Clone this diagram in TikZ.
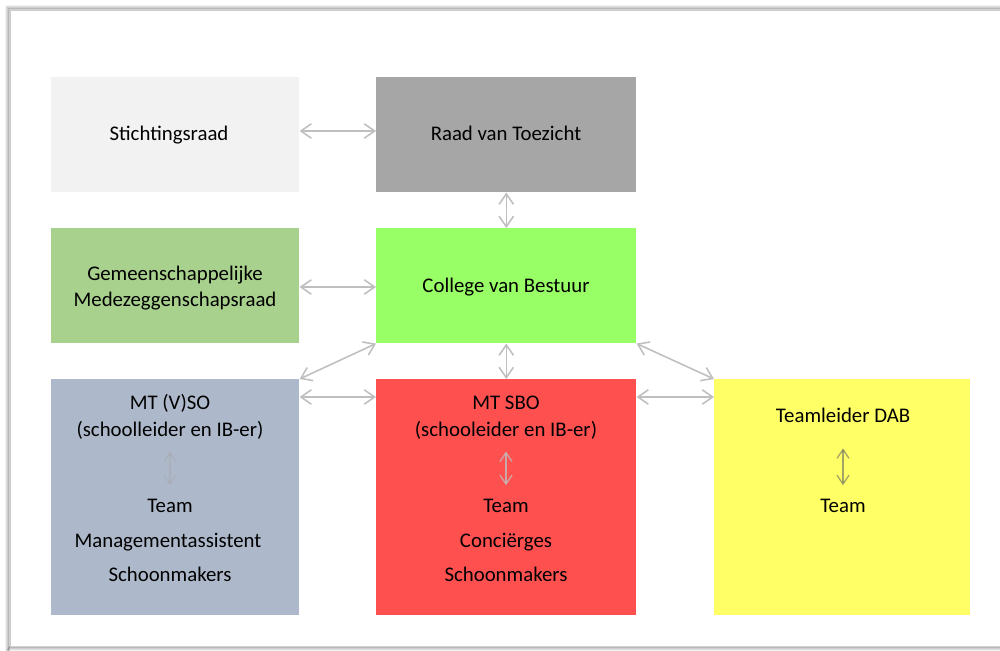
\documentclass[tikz,border=0pt]{standalone}
\usepackage{fontspec}
\setmainfont{Carlito}
\usetikzlibrary{arrows.meta, calc, positioning}

\definecolor{stichting}{HTML}{F2F2F2}
\definecolor{toezicht}{HTML}{A6A6A6}
\definecolor{gmr}{HTML}{A9D18E}
\definecolor{bestuur}{HTML}{99FF66}
\definecolor{vso}{HTML}{ADB9CA}
\definecolor{sbo}{HTML}{FF5050}
\definecolor{dab}{HTML}{FFFF66}
\definecolor{linkgray}{HTML}{BFBFBF}

\tikzset{
    orgbox/.style={rectangle, inner sep=0pt, anchor=north west},
    label/.style={anchor=base, inner sep=0pt, text=black, font=\fontsize{14.8}{18}\selectfont},
    link/.style={draw=linkgray, line width=1.1pt,
        {Straight Barb[length=2.6mm, width=3.6mm]}-{Straight Barb[length=2.6mm, width=3.6mm]}},
    innerlink/.style={draw=black!35, opacity=0.45, line width=0.9pt,
        {Straight Barb[length=2.2mm, width=3mm]}-{Straight Barb[length=2.2mm, width=3mm]}}
}

\begin{document}
\begin{tikzpicture}[x=0.025cm, y=-0.025cm]

% page with its shadow
\useasboundingbox (0,0) rectangle (1000,651);
\foreach \d/\o in {4/0.05, 3/0.08, 2/0.12, 1/0.18}
{
    \draw[black, opacity=\o, line width=1pt] (10-\d,1200) -- (10-\d,10-\d) -- (1100,10-\d);
    \draw[black, opacity=\o, line width=1pt] (10-\d,646+\d) -- (1100,646+\d);
}
\fill[white] (10,10) rectangle (1010,646);
\draw[black!20, line width=0.6pt] (10,646) -- (10,10) -- (1010,10);

% Boxes
\node[orgbox, fill=stichting, minimum width=248*0.025cm, minimum height=115*0.025cm] (stichting) at (51,77) {};
\node[orgbox, fill=toezicht, minimum width=260*0.025cm, minimum height=115*0.025cm] (toezicht) at (376,77) {};
\node[orgbox, fill=gmr, minimum width=248*0.025cm, minimum height=115*0.025cm] (gmr) at (51,228) {};
\node[orgbox, fill=bestuur, minimum width=260*0.025cm, minimum height=115*0.025cm] (bestuur) at (376,228) {};
\node[orgbox, fill=vso, minimum width=248*0.025cm, minimum height=236*0.025cm] (vso) at (51,379) {};
\node[orgbox, fill=sbo, minimum width=260*0.025cm, minimum height=236*0.025cm] (sbo) at (376,379) {};
\node[orgbox, fill=dab, minimum width=256*0.025cm, minimum height=236*0.025cm] (dab) at (714,379) {};

% Texts
\node[label] (stichtingText) at (169,140) {Stichtingsraad};
\node[label] (toezichtText) at (506,140) {Raad van Toezicht};
\node[label] (gmrTextA) at (175,280) {Gemeenschappelijke};
\node[label] (gmrTextB) at (175,306) {Medezeggenschapsraad};
\node[label] (bestuurText) at (506,292) {College van Bestuur};

\node[label] (vsoHead) at (170,409) {MT (V)SO};
\node[label] (vsoSub) at (170,436) {(schoolleider en IB-er)};
\node[label] (vsoTeam) at (170,512) {Team};
\node[label] (vsoAssist) at (168,547) {Managementassistent};
\node[label] (vsoClean) at (170,581) {Schoonmakers};

\node[label] (sboHead) at (506,409) {MT SBO};
\node[label] (sboSub) at (506,436) {(schooleider en IB-er)};
\node[label] (sboTeam) at (506,512) {Team};
\node[label] (sboConcierge) at (506,547) {Conciërges};
\node[label] (sboClean) at (506,581) {Schoonmakers};

\node[label] (dabHead) at (843,422) {Teamleider DAB};
\node[label] (dabTeam) at (843,512) {Team};

% Connectors between boxes
\draw[link] (stichting.east |- 0,131) -- (toezicht.west |- 0,131);
\draw[link] (toezicht.south) -- (bestuur.north);
\draw[link] (gmr.east |- 0,287) -- (bestuur.west |- 0,287);
\draw[link] (bestuur.south west) -- (vso.north east);
\draw[link] (bestuur.south) -- (sbo.north);
\draw[link] (bestuur.south east) -- (dab.north west);
\draw[link] ($(vso.north east)+(0,18)$) -- ($(sbo.north west)+(0,18)$);
\draw[link] ($(sbo.north east)+(0,18)$) -- ($(dab.north west)+(0,18)$);

% Connectors inside the boxes
\draw[innerlink, shorten <=3.1mm, shorten >=3.3mm] (vsoSub.south) -- (vsoTeam.north);
\draw[innerlink, draw=white!75!black, opacity=0.8, shorten <=3.1mm, shorten >=3.3mm] (sboSub.south) -- (sboTeam.north);
\draw[innerlink, black!60, opacity=0.6, shorten <=6.5mm, shorten >=3.3mm] (dabHead.south) -- (dabTeam.north);

\end{tikzpicture}
\end{document}
